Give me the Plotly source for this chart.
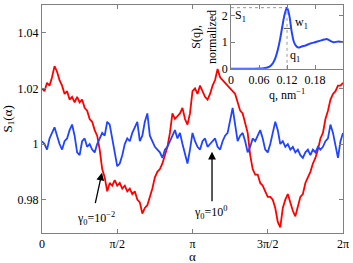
import numpy as np
import plotly.graph_objects as go

# main data: S1(alpha) for two gamma0 values (121 samples over [0, 2pi])
red_vals = [1.020, 1.019, 1.022, 1.021, 1.024, 1.028, 1.026, 1.023, 1.021, 1.018,
            1.019, 1.016, 1.017, 1.015, 1.017, 1.015, 1.016, 1.013, 1.012, 1.009,
            1.008, 1.005, 1.003, 0.998, 0.991, 0.988, 0.983, 0.986, 0.985, 0.987,
            0.985, 0.986, 0.984, 0.985, 0.983, 0.984, 0.982, 0.983, 0.980, 0.979,
            0.975, 0.977, 0.978, 0.981, 0.984, 0.988, 0.990, 0.991, 0.993, 0.996,
            0.999, 1.004, 1.011, 1.009, 1.010, 1.011, 1.013, 1.009, 1.007, 1.011,
            1.019, 1.020, 1.018, 1.021, 1.019, 1.017, 1.016, 1.018, 1.021, 1.023,
            1.027, 1.024, 1.023, 1.022, 1.021, 1.020, 1.019, 1.018, 1.015, 1.012,
            1.011, 1.007, 1.004, 0.996, 0.991, 0.989, 0.989, 0.986, 0.985, 0.983,
            0.981, 0.981, 0.980, 0.977, 0.972, 0.970, 0.977, 0.980, 0.982, 0.979,
            0.976, 0.974, 0.978, 0.981, 0.982, 0.986, 0.988, 0.990, 0.993, 0.995,
            0.998, 1.002, 1.004, 1.009, 1.012, 1.016, 1.018, 1.019, 1.021, 1.021,
            1.022]
blue_vals = [1.001, 1.000, 0.998, 1.002, 1.004, 1.006, 1.003, 1.000, 0.998, 1.001,
             1.002, 1.005, 1.007, 1.003, 0.997, 0.996, 1.001, 1.002, 0.999, 1.000,
             0.998, 0.997, 1.000, 1.002, 1.004, 1.003, 1.008, 1.007, 1.002, 0.997,
             0.992, 0.993, 0.996, 1.000, 1.002, 1.001, 1.004, 1.006, 1.008, 1.001,
             1.003, 1.008, 1.011, 1.003, 1.001, 0.999, 0.998, 0.997, 0.995, 0.998,
             0.999, 1.001, 1.003, 1.005, 1.002, 1.004, 1.000, 0.996, 0.993, 0.998,
             1.004, 1.001, 0.999, 0.998, 1.001, 1.002, 0.999, 1.000, 1.001, 1.002,
             0.999, 0.998, 1.001, 1.003, 1.004, 1.008, 1.013, 1.007, 1.001, 1.003,
             1.004, 1.001, 0.997, 0.999, 1.002, 1.001, 1.003, 1.005, 1.002, 0.998,
             0.997, 1.000, 1.004, 1.008, 1.005, 1.000, 1.001, 0.999, 1.000, 0.998,
             0.999, 0.997, 0.998, 0.996, 0.995, 0.997, 0.998, 0.996, 0.998, 0.997,
             0.999, 0.998, 0.999, 1.001, 1.002, 1.007, 1.004, 0.999, 0.995, 1.001,
             1.004]
alpha = [i * 2 * np.pi / (len(red_vals) - 1) for i in range(len(red_vals))]

x_tickvals = [0, np.pi / 2, np.pi, 3 * np.pi / 2, 2 * np.pi]
x_ticktext = ["0", "π/2", "π", "3π/2", "2π"]
y_tickvals = [0.98, 1.0, 1.02, 1.04]
y_ticktext = ["0.98", "1", "1.02", "1.04"]

# inset data: S(q)
q_vals = [0.0, 0.02, 0.04, 0.06, 0.07, 0.08, 0.085, 0.09, 0.095, 0.10, 0.105, 0.11,
          0.115, 0.12, 0.125, 0.13, 0.135, 0.14, 0.145, 0.15, 0.155, 0.16, 0.17,
          0.18, 0.19, 0.20, 0.205, 0.21, 0.22, 0.23, 0.24]
s_vals = [0.0, 0.0, 0.0, 0.01, 0.02, 0.06, 0.12, 0.22, 0.4, 0.7, 1.1, 1.6,
          2.05, 2.3, 2.0, 1.4, 1.0, 0.85, 0.8, 0.83, 0.86, 0.88, 0.95,
          1.0, 1.05, 1.1, 1.12, 1.08, 1.0, 1.03, 1.0]
inset_xticks = [0, 0.06, 0.12, 0.18]
inset_xticktext = ["0", "0.06", "0.12", "0.18"]
inset_yticks = [0, 1, 2]
q1, s1 = 0.12, 2.3
w_left, w_right, w_level = 0.113, 0.127, 1.52

FONT = "Liberation Serif"
GRAY = "#808080"

fig = go.Figure()
fig.add_trace(go.Scatter(x=alpha, y=red_vals, mode="lines",
                         line=dict(color="#ff0000", width=1.8), xaxis="x", yaxis="y"))
fig.add_trace(go.Scatter(x=alpha, y=blue_vals, mode="lines",
                         line=dict(color="#2244ff", width=1.8), xaxis="x", yaxis="y"))

# inset
fig.add_trace(go.Scatter(x=[0, q1], y=[s1, s1], mode="lines",
                         line=dict(color="#999999", width=1, dash="dot"), xaxis="x2", yaxis="y2"))
fig.add_trace(go.Scatter(x=[q1, q1], y=[0, s1], mode="lines",
                         line=dict(color="#999999", width=1, dash="dot"), xaxis="x2", yaxis="y2"))
fig.add_trace(go.Scatter(x=q_vals, y=s_vals, mode="lines", line_shape="spline",
                         line=dict(color="#2244ff", width=2), xaxis="x2", yaxis="y2"))
fig.add_trace(go.Scatter(x=[w_left, w_right], y=[w_level, w_level], mode="lines",
                         line=dict(color="#555555", width=1), xaxis="x2", yaxis="y2"))

axis_common = dict(showgrid=False, zeroline=False, showline=True, linecolor=GRAY,
                   linewidth=1, mirror="ticks", ticks="inside", ticklen=4,
                   tickcolor=GRAY, automargin=False,
                   tickfont=dict(family=FONT, size=12, color="black"))

fig.update_layout(
    width=353, height=263,
    margin=dict(l=42, r=10, t=5, b=30),
    paper_bgcolor="white", plot_bgcolor="white",
    showlegend=False,
    font=dict(family=FONT, size=12, color="black"),
    xaxis=dict(range=[0, 2 * np.pi], tickvals=x_tickvals, ticktext=x_ticktext,
               domain=[0, 1], **axis_common),
    yaxis=dict(range=[0.968, 1.05], tickvals=y_tickvals, ticktext=y_ticktext,
               domain=[0, 1], **axis_common),
    xaxis2=dict(range=[0, 0.24], tickvals=inset_xticks, ticktext=inset_xticktext,
                domain=[0.628, 1.0], anchor="y2",
                title=dict(text="q, nm<sup>−1</sup>", standoff=0, font=dict(family=FONT, size=12)),
                **axis_common),
    yaxis2=dict(range=[0, 2.4], tickvals=inset_yticks, domain=[0.72, 1.0], anchor="x2",
                title=dict(text="S(q),<br>normalized", standoff=2, font=dict(family=FONT, size=12)),
                **axis_common),
)

# main axis titles
fig.add_annotation(x=0.5, y=0, xref="paper", yref="paper", yshift=-14, yanchor="top",
                   showarrow=False, text="α", font=dict(family=FONT, size=13))
fig.add_annotation(x=0, y=0.5, xref="paper", yref="paper", xshift=-24, xanchor="right",
                   showarrow=False, textangle=-90, text="S<sub>1</sub>(α)",
                   font=dict(family=FONT, size=13))

# arrows and labels
fig.add_annotation(x=1.252, y=0.9897, ax=1.106, ay=0.9782, xref="x", yref="y",
                   axref="x", ayref="y", text="", showarrow=True, arrowhead=2,
                   arrowsize=1.2, arrowwidth=1.3, arrowcolor="black")
fig.add_annotation(x=1.127, y=0.9733, xref="x", yref="y", showarrow=False,
                   text="γ<sub>0</sub>=10<sup>−2</sup>", font=dict(family=FONT, size=12))
fig.add_annotation(x=3.549, y=0.9972, ax=3.549, ay=0.9789, xref="x", yref="y",
                   axref="x", ayref="y", text="", showarrow=True, arrowhead=2,
                   arrowsize=1.2, arrowwidth=1.3, arrowcolor="black")
fig.add_annotation(x=3.507, y=0.9755, xref="x", yref="y", showarrow=False,
                   text="γ<sub>0</sub>=10<sup>0</sup>", font=dict(family=FONT, size=12))

fig.add_annotation(x=0.004, y=2.0, xref="x2", yref="y2", showarrow=False, xanchor="left",
                   text="S<sub>1</sub>", font=dict(family=FONT, size=12))
fig.add_annotation(x=0.133, y=1.72, xref="x2", yref="y2", showarrow=False, xanchor="left",
                   text="w<sub>1</sub>", font=dict(family=FONT, size=12))
fig.add_annotation(x=0.123, y=0.5, xref="x2", yref="y2", showarrow=False, xanchor="left",
                   text="q<sub>1</sub>", font=dict(family=FONT, size=12))

fig.write_html("out.html", post_script="document.body.style.margin='0';",
               config={"displayModeBar": False})
